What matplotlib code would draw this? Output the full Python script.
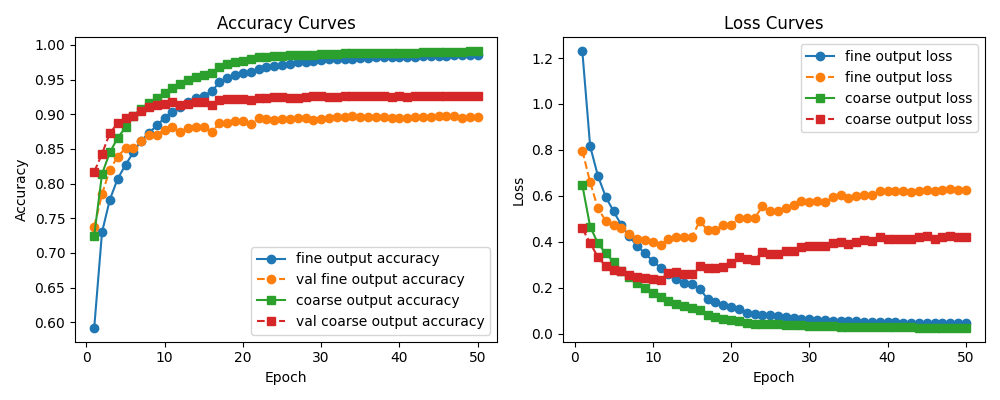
import numpy as np
import matplotlib
matplotlib.use('Agg')
import matplotlib.pyplot as plt

epochs = np.arange(1, 51)

fine_acc = [0.592, 0.730, 0.777, 0.807, 0.827, 0.845, 0.862, 0.873, 0.884, 0.895,
            0.904, 0.911, 0.918, 0.924, 0.927, 0.933, 0.946, 0.953, 0.957, 0.959,
            0.961, 0.966, 0.968, 0.970, 0.971, 0.973, 0.975, 0.976, 0.977, 0.978,
            0.979, 0.979, 0.980, 0.980, 0.981, 0.981, 0.982, 0.982, 0.982, 0.983,
            0.983, 0.983, 0.984, 0.984, 0.984, 0.984, 0.985, 0.985, 0.985, 0.985]

val_fine_acc = [0.738, 0.785, 0.820, 0.839, 0.851, 0.852, 0.862, 0.870, 0.870, 0.878,
                0.881, 0.874, 0.880, 0.881, 0.881, 0.874, 0.887, 0.888, 0.890, 0.890,
                0.886, 0.894, 0.893, 0.892, 0.893, 0.893, 0.894, 0.894, 0.892, 0.893,
                0.895, 0.896, 0.896, 0.897, 0.896, 0.896, 0.896, 0.896, 0.895, 0.895,
                0.895, 0.896, 0.896, 0.896, 0.897, 0.897, 0.897, 0.895, 0.896, 0.896]

coarse_acc = [0.725, 0.814, 0.845, 0.866, 0.881, 0.897, 0.908, 0.916, 0.924, 0.931,
              0.938, 0.944, 0.950, 0.954, 0.957, 0.960, 0.968, 0.972, 0.975, 0.977,
              0.979, 0.982, 0.983, 0.984, 0.984, 0.985, 0.985, 0.986, 0.986, 0.987,
              0.987, 0.987, 0.988, 0.988, 0.988, 0.988, 0.988, 0.988, 0.989, 0.989,
              0.989, 0.989, 0.990, 0.990, 0.990, 0.990, 0.990, 0.990, 0.991, 0.991]

val_coarse_acc = [0.817, 0.843, 0.873, 0.887, 0.894, 0.898, 0.905, 0.910, 0.913, 0.915,
                  0.917, 0.913, 0.915, 0.918, 0.918, 0.914, 0.921, 0.922, 0.922, 0.922,
                  0.920, 0.923, 0.924, 0.925, 0.925, 0.924, 0.924, 0.925, 0.926, 0.926,
                  0.925, 0.925, 0.926, 0.926, 0.926, 0.926, 0.926, 0.926, 0.925, 0.926,
                  0.925, 0.926, 0.926, 0.926, 0.926, 0.926, 0.926, 0.926, 0.926, 0.926]

fine_loss = [1.230, 0.816, 0.686, 0.595, 0.532, 0.472, 0.424, 0.382, 0.350, 0.316,
             0.287, 0.260, 0.238, 0.221, 0.215, 0.196, 0.151, 0.139, 0.124, 0.117,
             0.109, 0.090, 0.087, 0.083, 0.080, 0.076, 0.072, 0.068, 0.065, 0.063,
             0.061, 0.059, 0.057, 0.056, 0.055, 0.053, 0.052, 0.051, 0.050, 0.050,
             0.049, 0.048, 0.048, 0.047, 0.047, 0.046, 0.046, 0.045, 0.045, 0.045]

val_fine_loss = [0.797, 0.659, 0.545, 0.491, 0.472, 0.461, 0.433, 0.414, 0.407, 0.397,
                 0.388, 0.410, 0.419, 0.420, 0.420, 0.490, 0.451, 0.451, 0.472, 0.472,
                 0.502, 0.502, 0.502, 0.554, 0.533, 0.534, 0.545, 0.560, 0.579, 0.573,
                 0.579, 0.572, 0.593, 0.603, 0.589, 0.600, 0.605, 0.603, 0.621, 0.621,
                 0.621, 0.621, 0.615, 0.621, 0.625, 0.621, 0.625, 0.630, 0.625, 0.625]

coarse_loss = [0.647, 0.466, 0.393, 0.349, 0.312, 0.274, 0.247, 0.221, 0.199, 0.177,
               0.160, 0.143, 0.131, 0.120, 0.110, 0.102, 0.080, 0.071, 0.063, 0.059,
               0.056, 0.047, 0.044, 0.043, 0.042, 0.041, 0.039, 0.037, 0.036, 0.034,
               0.033, 0.032, 0.032, 0.031, 0.030, 0.030, 0.029, 0.029, 0.028, 0.028,
               0.027, 0.027, 0.027, 0.026, 0.026, 0.026, 0.026, 0.025, 0.025, 0.025]

val_coarse_loss = [0.458, 0.394, 0.333, 0.294, 0.279, 0.272, 0.255, 0.248, 0.243, 0.240,
                   0.234, 0.262, 0.267, 0.258, 0.258, 0.296, 0.285, 0.285, 0.292, 0.307,
                   0.332, 0.327, 0.321, 0.356, 0.347, 0.347, 0.359, 0.359, 0.378, 0.380,
                   0.380, 0.380, 0.395, 0.400, 0.390, 0.400, 0.407, 0.403, 0.421, 0.414,
                   0.414, 0.414, 0.414, 0.421, 0.426, 0.412, 0.421, 0.426, 0.419, 0.419]

fig, (ax1, ax2) = plt.subplots(1, 2, figsize=(10, 4))

ax1.plot(epochs, fine_acc, marker='o', linestyle='-', label='fine output accuracy')
ax1.plot(epochs, val_fine_acc, marker='o', linestyle='--', label='val fine output accuracy')
ax1.plot(epochs, coarse_acc, marker='s', linestyle='-', label='coarse output accuracy')
ax1.plot(epochs, val_coarse_acc, marker='s', linestyle='--', label='val coarse output accuracy')
ax1.set_title('Accuracy Curves')
ax1.set_xlabel('Epoch')
ax1.set_ylabel('Accuracy')
ax1.legend(loc='lower right')

ax2.plot(epochs, fine_loss, marker='o', linestyle='-', label='fine output loss')
ax2.plot(epochs, val_fine_loss, marker='o', linestyle='--', label='fine output loss')
ax2.plot(epochs, coarse_loss, marker='s', linestyle='-', label='coarse output loss')
ax2.plot(epochs, val_coarse_loss, marker='s', linestyle='--', label='coarse output loss')
ax2.set_title('Loss Curves')
ax2.set_xlabel('Epoch')
ax2.set_ylabel('Loss')
ax2.legend(loc='upper right')

plt.tight_layout()
plt.savefig('out.png', dpi=100)
